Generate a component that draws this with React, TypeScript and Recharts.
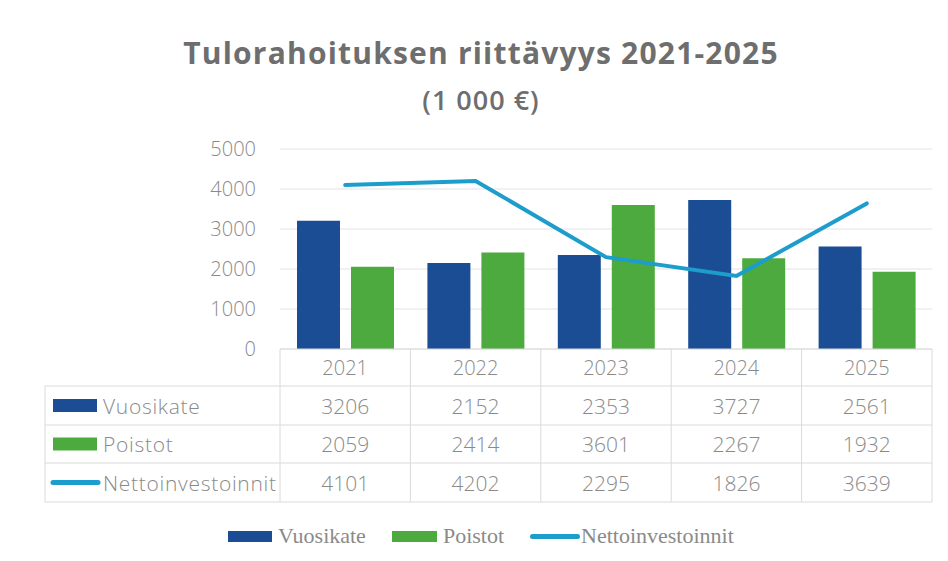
import React from 'react';
import { ComposedChart, Bar, Line, XAxis, YAxis, CartesianGrid, Legend } from 'recharts';

const years = ['2021', '2022', '2023', '2024', '2025'];
const vuosikate = [3206, 2152, 2353, 3727, 2561];
const poistot = [2059, 2414, 3601, 2267, 1932];
const nettoinvestoinnit = [4101, 4202, 2295, 1826, 3639];
const yTicks = [0, 1000, 2000, 3000, 4000, 5000];

const seriesNames = ['Vuosikate', 'Poistot', 'Nettoinvestoinnit'];
const BLUE = '#1a4d94';
const GREEN = '#4daa3e';
const LINE = '#1c9dcb';
const TEXT = '#8a8a8a';
const BORDER = '#dadada';
const FONT = '"Open Sans", "Noto Sans", sans-serif';

const data = years.map((y, i) => ({
  year: y,
  Vuosikate: vuosikate[i],
  Poistot: poistot[i],
  Nettoinvestoinnit: nettoinvestoinnit[i],
}));

const seriesValues = [vuosikate, poistot, nettoinvestoinnit];

// table geometry relative to the axis top
const HEADER_H = 37;
const ROW_H = [39, 38, 39];
const LABEL_LEFT = 45;

const TableTick = (props: any) => {
  const { x, y, payload, width, visibleTicksCount } = props;
  const idx = payload.index;
  const count = visibleTicksCount || years.length;
  const cw = width / count;
  const left = x - cw / 2;
  const right = x + cw / 2;
  const rowTops = [y + HEADER_H, y + HEADER_H + ROW_H[0], y + HEADER_H + ROW_H[0] + ROW_H[1]];
  const bottom = y + HEADER_H + ROW_H[0] + ROW_H[1] + ROW_H[2];
  const els: any[] = [];
  els.push(<line key="t" x1={left} x2={right} y1={y} y2={y} stroke={BORDER} />);
  rowTops.forEach((rt, k) => els.push(<line key={'h' + k} x1={left} x2={right} y1={rt} y2={rt} stroke={BORDER} />));
  els.push(<line key="b" x1={left} x2={right} y1={bottom} y2={bottom} stroke={BORDER} />);
  els.push(<line key="vl" x1={left} x2={left} y1={y} y2={bottom} stroke={BORDER} />);
  if (idx === count - 1) {
    els.push(<line key="vr" x1={right} x2={right} y1={y} y2={bottom} stroke={BORDER} />);
  }
  els.push(
    <text key="yr" x={x} y={y + HEADER_H / 2} textAnchor="middle" dominantBaseline="central" fontSize={20} fill={TEXT} fontFamily={FONT} fontWeight={300}>
      {payload.value}
    </text>
  );
  seriesValues.forEach((vals, k) => {
    const cy = rowTops[k] + ROW_H[k] / 2;
    els.push(
      <text key={'v' + k} x={x} y={cy} textAnchor="middle" dominantBaseline="central" fontSize={21} fill={TEXT} fontFamily={FONT} fontWeight={300}>
        {vals[idx]}
      </text>
    );
  });
  if (idx === 0) {
    els.push(<line key="lt" x1={LABEL_LEFT} x2={left} y1={rowTops[0]} y2={rowTops[0]} stroke={BORDER} />);
    els.push(<line key="lm1" x1={LABEL_LEFT} x2={left} y1={rowTops[1]} y2={rowTops[1]} stroke={BORDER} />);
    els.push(<line key="lm2" x1={LABEL_LEFT} x2={left} y1={rowTops[2]} y2={rowTops[2]} stroke={BORDER} />);
    els.push(<line key="lb" x1={LABEL_LEFT} x2={left} y1={bottom} y2={bottom} stroke={BORDER} />);
    els.push(<line key="ll" x1={LABEL_LEFT} x2={LABEL_LEFT} y1={rowTops[0]} y2={bottom} stroke={BORDER} />);
    seriesNames.forEach((name, k) => {
      const cy = rowTops[k] + ROW_H[k] / 2;
      if (k < 2) {
        els.push(<rect key={'s' + k} x={53} y={cy - 6.5} width={44} height={13} fill={k === 0 ? BLUE : GREEN} />);
      } else {
        els.push(<line key={'s' + k} x1={53} x2={98} y1={cy} y2={cy} stroke={LINE} strokeWidth={5} strokeLinecap="round" />);
      }
      els.push(
        <text key={'n' + k} x={103} y={cy} dominantBaseline="central" fontSize={21} fill={TEXT} fontFamily={FONT} fontWeight={300} letterSpacing={0.7}>
          {name}
        </text>
      );
    });
  }
  return <g>{els}</g>;
};

const LegendContent = () => (
  <div style={{ display: 'flex', alignItems: 'center', height: 28, paddingLeft: 228, fontFamily: '"Liberation Serif", "DejaVu Serif", serif', fontSize: 22, color: TEXT }}>
    <span style={{ display: 'inline-block', width: 44, height: 11, background: BLUE, marginRight: 6 }} />
    <span style={{ marginRight: 26 }}>Vuosikate</span>
    <span style={{ display: 'inline-block', width: 45, height: 11, background: GREEN, marginRight: 6 }} />
    <span style={{ marginRight: 26 }}>Poistot</span>
    <span style={{ display: 'inline-block', width: 50, height: 5, borderRadius: 3, background: LINE, marginRight: 1 }} />
    <span>Nettoinvestoinnit</span>
  </div>
);

export default function App() {
  return (
    <div style={{ position: 'absolute', left: 0, top: 0, width: 948, height: 561, background: '#ffffff', overflow: 'hidden' }}>
      <div style={{ position: 'absolute', left: 0, top: 33, width: 962, textAlign: 'center', fontFamily: FONT, fontWeight: 700, fontSize: 30, color: '#6e6e6e', lineHeight: '40px', letterSpacing: 1.2 }}>
        Tulorahoituksen riittävyys 2021-2025
      </div>
      <div style={{ position: 'absolute', left: 0, top: 82, width: 962, textAlign: 'center', fontFamily: FONT, fontWeight: 600, fontSize: 27, color: '#6e6e6e', lineHeight: '36px', letterSpacing: 1 }}>
        (1 000 €)
      </div>
      <ComposedChart
        width={948}
        height={561}
        data={data}
        margin={{ top: 149, right: 16, bottom: 11, left: 0 }}
        barGap={11}
        style={{ position: 'absolute', left: 0, top: 0 }}
      >
        <CartesianGrid horizontal vertical={false} stroke="#e2e2e2" />
        <XAxis
          dataKey="year"
          axisLine={false}
          tickLine={false}
          tickSize={0}
          tickMargin={0}
          height={173}
          interval={0}
          tick={<TableTick />}
        />
        <YAxis
          width={280}
          domain={[0, 5000]}
          ticks={yTicks}
          axisLine={false}
          tickLine={false}
          tickSize={0}
          tickMargin={24}
          tick={{ fontSize: 20, fill: TEXT, fontFamily: FONT, fontWeight: 300 }}
        />
        <Bar dataKey="Vuosikate" fill={BLUE} barSize={43} isAnimationActive={false} />
        <Bar dataKey="Poistot" fill={GREEN} barSize={43} isAnimationActive={false} />
        <Line dataKey="Nettoinvestoinnit" stroke={LINE} strokeWidth={4} dot={false} type="linear" strokeLinecap="round" isAnimationActive={false} />
        <Legend
          verticalAlign="bottom"
          content={<LegendContent />}
          wrapperStyle={{ left: 0, width: 948, height: 28 }}
        />
      </ComposedChart>
    </div>
  );
}
